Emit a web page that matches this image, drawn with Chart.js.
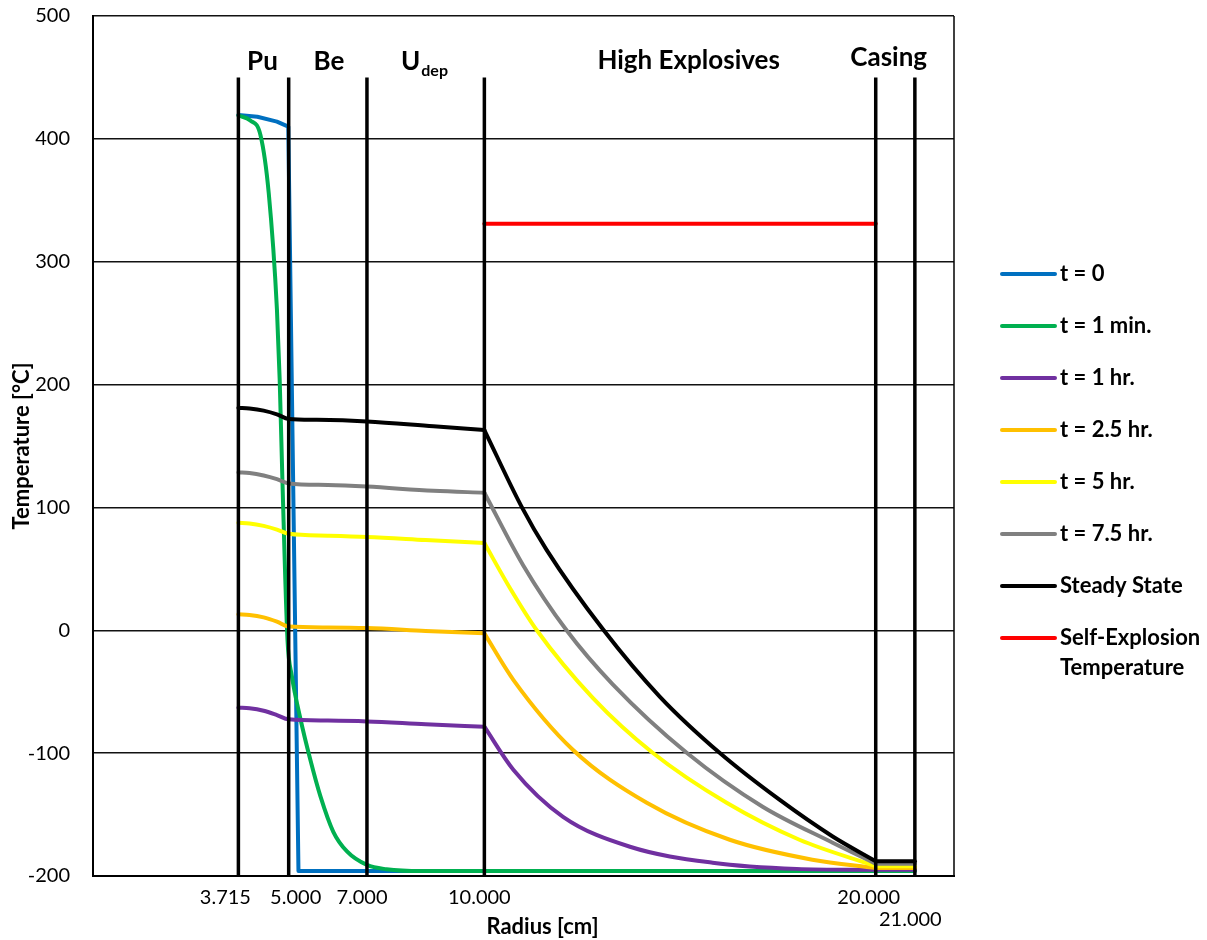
<!DOCTYPE html>
<html>
<head>
<meta charset="utf-8">
<script src="https://cdn.jsdelivr.net/npm/chart.js@4.4.0/dist/chart.umd.min.js"></script>
<style>
  html, body { margin: 0; padding: 0; background: #fff; }
  #wrap { position: relative; width: 1207px; height: 940px; }
</style>
</head>
<body>
<div id="wrap"><canvas id="tempChart" width="1207" height="940"></canvas></div>
<script>
// layer boundaries [cm] and the labels shown above them
const boundaryRadii = [3.715, 5, 7, 10, 20, 21];
const boundaryTop = 450;
const regionNames = ["Pu", "Be", "U", "High Explosives", "Casing"];

const seriesLabels = ["t = 0", "t = 1 min.", "t = 1 hr.", "t = 2.5 hr.", "t = 5 hr.", "t = 7.5 hr.", "Steady State", "Self-Explosion Temperature"];
const seriesColors = ["#0070C0", "#00B050", "#7030A0", "#FFC000", "#FFFF00", "#808080", "#000000", "#FF0000"];

// temperature profiles, radius [cm] -> temperature [°C]
const radiusT0 = [3.715, 4.2, 4.7, 4.99, 5.25, 21];
const tempT0 = [419.5, 418, 414, 410, -196, -196];

const radius1Min = [3.715, 4.02, 4.28, 4.49, 4.70, 4.77, 4.84, 4.97, 5.08, 5.30, 5.55, 5.81, 6.14, 6.49, 7.00, 7.50, 8.40, 21];
const temp1Min = [419, 415, 403, 356, 261, 204, 122, -8, -37, -72, -105, -135, -164, -180, -191, -194.5, -196, -196];

const radius1Hr = [3.715, 4.0, 4.36, 4.7, 5, 6, 7, 8.5, 10, 10.74, 12.01, 13.72, 15.83, 17.98, 20, 21];
const temp1Hr = [-63, -63.5, -65.5, -69, -72.5, -73.5, -74.2, -76.5, -78.5, -113.5, -151.8, -176.2, -189.2, -194.2, -195, -195];

const radius2_5Hr = [3.715, 4.0, 4.36, 4.7, 5, 6, 7, 8.5, 10, 10.74, 12.26, 14.15, 16.27, 18.38, 20, 21];
const temp2_5Hr = [13, 12.5, 10.5, 7, 3, 2.3, 1.8, -0.5, -2.5, -40.3, -97.2, -140.4, -170.5, -186.7, -193.5, -193.5];

const radius5Hr = [3.715, 4.0, 4.36, 4.7, 5, 6, 7, 8.5, 10, 10.66, 11.34, 12.77, 14.3, 16.19, 18.05, 20, 21];
const temp5Hr = [87.5, 87, 85, 82, 78.5, 77, 76, 73.5, 71, 34, 0, -55, -99.7, -140.4, -170.5, -192, -192];

const radius7_5Hr = [3.715, 4.0, 4.36, 4.7, 5, 6, 7, 8.7, 10, 10.99, 12.1, 13.28, 15.17, 17.11, 18.9, 20, 21];
const temp7_5Hr = [128.5, 128, 126, 123, 119.5, 118.3, 117, 113.5, 112, 53, 0, -44, -99.7, -143.6, -172.9, -190, -190];

const radiusSteady = [3.715, 4.0, 4.36, 4.7, 5, 5.72, 7, 8.7, 10, 10.95, 11.59, 13.04, 14.48, 16.01, 17.54, 18.9, 20, 21];
const tempSteady = [181, 180.5, 178.8, 175.8, 172, 171.3, 170, 166, 163, 100.7, 65.5, 0.4, -53.9, -99.7, -137.9, -167.8, -188, -188];

const radiusSelfExp = [10, 20];
const tempSelfExp = [331, 331];

const seriesRadii = [radiusT0, radius1Min, radius1Hr, radius2_5Hr, radius5Hr, radius7_5Hr, radiusSteady, radiusSelfExp];
const seriesTemps = [tempT0, temp1Min, temp1Hr, temp2_5Hr, temp5Hr, temp7_5Hr, tempSteady, tempSelfExp];

const xTickValues = [3.715, 5, 7, 10, 20, 21];
const yMin = -200, yMax = 500, yStep = 100;
const xMin = 0, xMax = 22;

// split a profile at the layer interfaces so the smoothing keeps the corners
function splitProfile(radii, temps, breaks) {
    const parts = [];
    let cur = [];
    radii.forEach((r, i) => {
        cur.push({ x: r, y: temps[i] });
        if (breaks.includes(r) && cur.length > 1 && i < radii.length - 1) {
            parts.push(cur);
            cur = [{ x: r, y: temps[i] }];
        }
    });
    parts.push(cur);
    return parts;
}

const datasets = [];

boundaryRadii.forEach(r => {
    datasets.push({
        data: [{ x: r, y: yMin }, { x: r, y: boundaryTop }],
        borderColor: "#000",
        borderWidth: 3.5,
        pointRadius: 0,
        order: 0
    });
});

seriesLabels.forEach((label, i) => {
    splitProfile(seriesRadii[i], seriesTemps[i], [10, 20]).forEach(part => {
        datasets.push({
            label: label,
            data: part,
            borderColor: seriesColors[i],
            borderWidth: 4,
            pointRadius: 0,
            tension: 0,
            cubicInterpolationMode: i === 0 ? "default" : "monotone",
            borderCapStyle: "round",
            borderJoinStyle: "round",
            order: 20 - i
        });
    });
});

const PLOT_TOP = 16;

const overlayPlugin = {
    id: "overlay",
    afterDraw(chart) {
        const { ctx, chartArea, scales: { x } } = chart;
        ctx.save();

        // right frame
        ctx.strokeStyle = "#000";
        ctx.lineWidth = 1.5;
        ctx.beginPath();
        ctx.moveTo(chartArea.right, chartArea.top);
        ctx.lineTo(chartArea.right, chartArea.bottom);
        ctx.stroke();

        ctx.fillStyle = "#000";

        // layer names
        const regionX = [4.33, 6.03, 8.47, 15.22, 20.33];
        const regionBase = [70, 70, 70, 69, 66];
        ctx.textBaseline = "alphabetic";
        regionNames.forEach((name, i) => {
            const cx = x.getPixelForValue(regionX[i]);
            ctx.font = "bold 26px Lato";
            if (name === "U") {
                const w1 = ctx.measureText(name).width;
                ctx.font = "bold 16px Lato";
                const w2 = ctx.measureText("dep").width;
                const left = cx - (w1 + w2 + 1) / 2;
                ctx.font = "bold 26px Lato";
                ctx.textAlign = "left";
                ctx.fillText(name, left, regionBase[i]);
                ctx.font = "bold 16px Lato";
                ctx.fillText("dep", left + w1 + 1, regionBase[i] + 6);
            } else {
                ctx.textAlign = "center";
                ctx.fillText(name, cx, regionBase[i]);
            }
        });

        // radius tick labels, staggered when they would collide
        const nudge = [-13, 7, -5, -5, -7, -4.5];
        ctx.font = "20px Lato";
        ctx.textAlign = "center";
        ctx.textBaseline = "middle";
        let lastRight = -Infinity;
        xTickValues.forEach((v, i) => {
            const text = v.toFixed(3);
            const w = ctx.measureText(text).width;
            const cx = x.getPixelForValue(v) + nudge[i];
            let row = 0;
            if (cx - w / 2 < lastRight) row = 1;
            else lastRight = cx + w / 2;
            ctx.fillText(text, cx, chartArea.bottom + 22 + row * 21.5);
        });

        // x axis title
        ctx.font = "bold 22px Lato";
        ctx.fillText("Radius [cm]", (chartArea.left + chartArea.right) / 2 + 19, chartArea.bottom + 51);

        // legend
        const legLeft = chartArea.right + 48;
        ctx.textAlign = "left";
        ctx.lineCap = "round";
        seriesLabels.forEach((label, i) => {
            const yc = 274 + i * 52;
            ctx.strokeStyle = seriesColors[i];
            ctx.lineWidth = 4;
            ctx.beginPath();
            ctx.moveTo(legLeft, yc);
            ctx.lineTo(legLeft + 53, yc);
            ctx.stroke();
            ctx.font = "bold 22px Lato";
            const words = label.split(" ");
            const lines = [];
            let line = "";
            words.forEach(wd => {
                const test = line ? line + " " + wd : wd;
                if (line && ctx.measureText(test).width > 175) {
                    lines.push(line);
                    line = wd;
                } else {
                    line = test;
                }
            });
            lines.push(line);
            lines.forEach((ln, j) => ctx.fillText(ln, legLeft + 58, yc + j * 30));
        });

        ctx.restore();
    }
};

Chart.defaults.font.family = "Lato, 'Open Sans', sans-serif";
Chart.defaults.color = "#000";

const chart = new Chart(document.getElementById("tempChart").getContext("2d"), {
    type: "line",
    data: { datasets: datasets },
    options: {
        responsive: false,
        animation: false,
        layout: { padding: { top: PLOT_TOP, right: 253, left: 0, bottom: 0 } },
        plugins: {
            legend: { display: false },
            tooltip: { enabled: false }
        },
        scales: {
            x: {
                type: "linear",
                min: xMin,
                max: xMax,
                grid: { display: false },
                border: { display: true, color: "#000", width: 2 },
                ticks: { display: false },
                afterFit: scale => { scale.height = 64; }
            },
            y: {
                min: yMin,
                max: yMax,
                grid: { color: "#111", lineWidth: 1.5, drawTicks: false },
                border: { display: true, color: "#000", width: 2 },
                ticks: { stepSize: yStep, padding: 23, font: { size: 20 } },
                title: {
                    display: true,
                    text: "Temperature [°C]",
                    font: { size: 22, weight: "bold" },
                    padding: { top: 9, bottom: 0 }
                },
                afterFit: scale => {
                    scale.width = 93;
                    scale.paddingTop = 0;
                    scale.paddingBottom = 0;
                }
            }
        }
    },
    plugins: [overlayPlugin]
});

// pin the plot top where the reference has it
const extraTop = chart.chartArea.top - PLOT_TOP;
if (Math.abs(extraTop) > 0.5) {
    chart.options.layout.padding.top = PLOT_TOP - extraTop;
    chart.update();
}
</script>
</body>
</html>
